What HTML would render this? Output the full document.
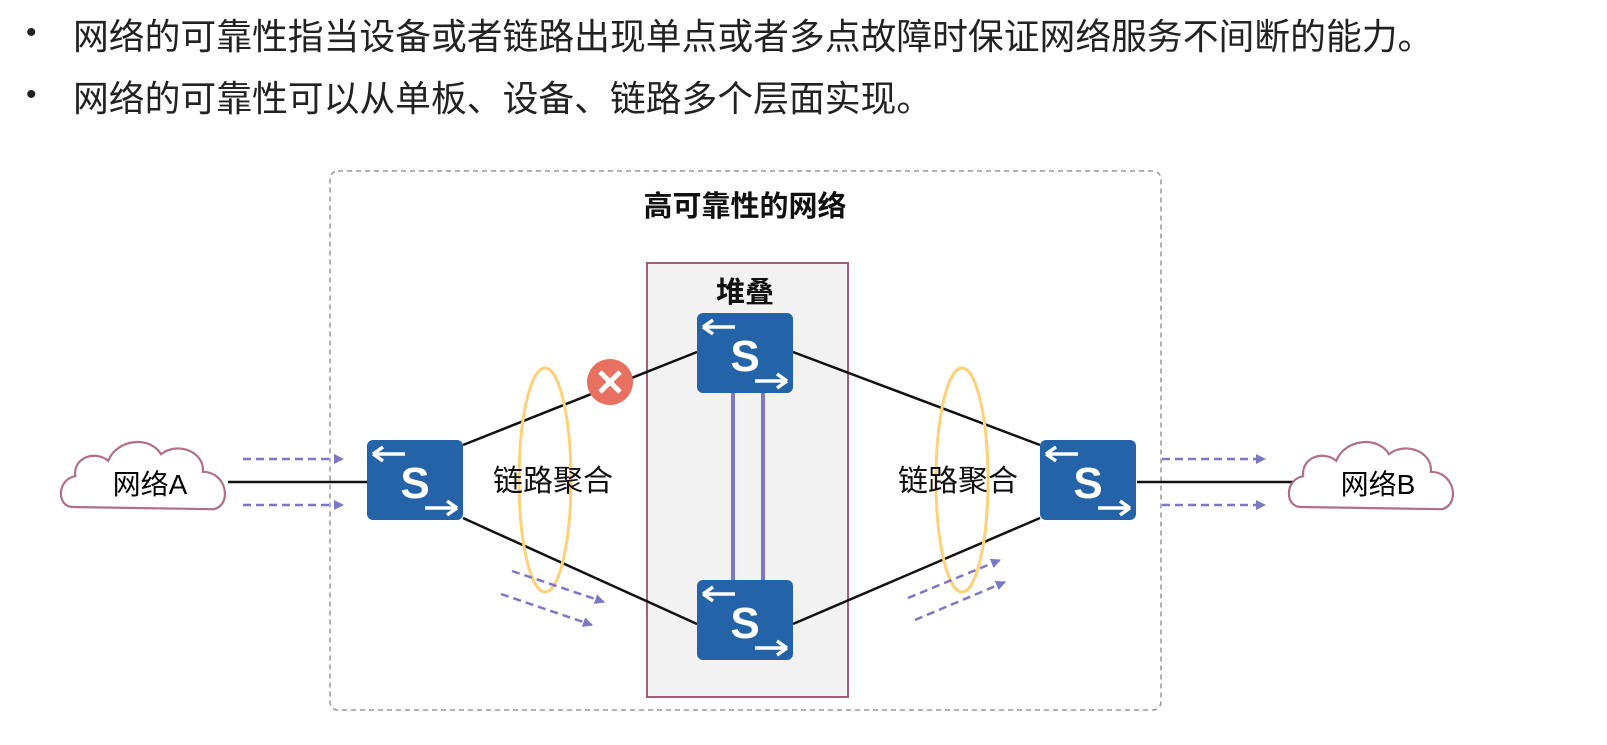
<!DOCTYPE html>
<html><head><meta charset="utf-8"><style>
body{margin:0;width:1607px;height:745px;background:#fff;overflow:hidden;font-family:"Liberation Sans","Noto Sans CJK SC",sans-serif;}
.b{position:absolute;left:26px;font-size:30px;color:#222;}
.t{position:absolute;left:73px;font-size:35.8px;color:#222;white-space:nowrap;}
</style></head><body>
<div class="b" style="top:16px">•</div><div class="t" style="top:8px">网络的可靠性指当设备或者链路出现单点或者多点故障时保证网络服务不间断的能力。</div>
<div class="b" style="top:78px">•</div><div class="t" style="top:70px">网络的可靠性可以从单板、设备、链路多个层面实现。</div>
<svg width="1607" height="745" style="position:absolute;left:0;top:0" font-family="Liberation Sans, Noto Sans CJK SC, sans-serif">
<defs>
<marker id="ar" markerWidth="10" markerHeight="10" refX="9" refY="5" orient="auto" markerUnits="userSpaceOnUse"><path d="M0,0 L10,5 L0,10z" fill="#7b78c4"/></marker>
<g id="sw"><rect x="0" y="0" width="96" height="80" rx="6" fill="#2563a8"/>
<text x="48" y="58" font-size="44" font-weight="bold" fill="#fff" text-anchor="middle">S</text>
<path d="M6,14 H38 M6,14 l10,-7 M6,14 l10,7" stroke="#fff" stroke-width="3.5" fill="none"/>
<path d="M58,68 H90 M90,68 l-10,-7 M90,68 l-10,7" stroke="#fff" stroke-width="3.5" fill="none"/></g>
<path id="cl" d="M-70,20 C-85,20 -85,-5 -68,-8 C-70,-25 -50,-32 -38,-22 C-30,-42 0,-45 10,-28 C25,-40 50,-30 48,-12 C70,-12 75,18 58,22 Z" fill="#fff" stroke="#b0708a" stroke-width="2"/>
</defs>
<rect x="330" y="171" width="831" height="539" rx="8" fill="none" stroke="#999" stroke-width="1.5" stroke-dasharray="5,4"/>
<text x="745" y="216" font-size="29" font-weight="bold" text-anchor="middle" fill="#111">高可靠性的网络</text>
<rect x="647" y="263" width="201" height="434" fill="#f2f2f2" stroke="#a0607a" stroke-width="2"/>
<text x="745" y="302" font-size="29" font-weight="bold" text-anchor="middle" fill="#111">堆叠</text>
<g stroke="#111" stroke-width="2.5">
<line x1="228" y1="482" x2="367" y2="482"/><line x1="1137" y1="482" x2="1296" y2="482"/>
<line x1="463" y1="445" x2="697" y2="352"/><line x1="463" y1="518" x2="697" y2="624"/>
<line x1="793" y1="352" x2="1040" y2="445"/><line x1="793" y1="624" x2="1040" y2="518"/></g>
<g stroke="#7b78c4" stroke-width="4"><line x1="733" y1="393" x2="733" y2="580"/><line x1="763" y1="393" x2="763" y2="580"/></g>
<use href="#sw" x="367" y="440"/><use href="#sw" x="697" y="313"/><use href="#sw" x="697" y="580"/><use href="#sw" x="1040" y="440"/>
<g transform="translate(150,485) scale(1.1)"><use href="#cl"/></g><g transform="translate(1378,485) scale(1.1)"><use href="#cl"/></g>
<text x="150" y="494" font-size="28" text-anchor="middle">网络A</text>
<text x="1378" y="494" font-size="28" text-anchor="middle">网络B</text>
<ellipse cx="545" cy="480" rx="26" ry="112" fill="none" stroke="#fdd27a" stroke-width="3"/>
<ellipse cx="962" cy="480" rx="26" ry="112" fill="none" stroke="#fdd27a" stroke-width="3"/>
<text x="553" y="491" font-size="30" text-anchor="middle" fill="#111">链路聚合</text>
<text x="958" y="491" font-size="30" text-anchor="middle" fill="#111">链路聚合</text>
<circle cx="610" cy="382" r="23" fill="#e87060"/>
<path d="M600,372 L620,392 M620,372 L600,392" stroke="#fff" stroke-width="5"/>
<g stroke="#7b78c4" stroke-width="2.5" stroke-dasharray="8,5" marker-end="url(#ar)" fill="none">
<line x1="243" y1="459" x2="343" y2="459"/><line x1="243" y1="505" x2="343" y2="505"/>
<line x1="1162" y1="459" x2="1265" y2="459"/><line x1="1162" y1="505" x2="1265" y2="505"/>
<line x1="512" y1="571" x2="604" y2="602"/><line x1="501" y1="594" x2="592" y2="625"/>
<line x1="908" y1="598" x2="1000" y2="560"/><line x1="915" y1="620" x2="1005" y2="582"/></g>
</svg>
</body></html>
